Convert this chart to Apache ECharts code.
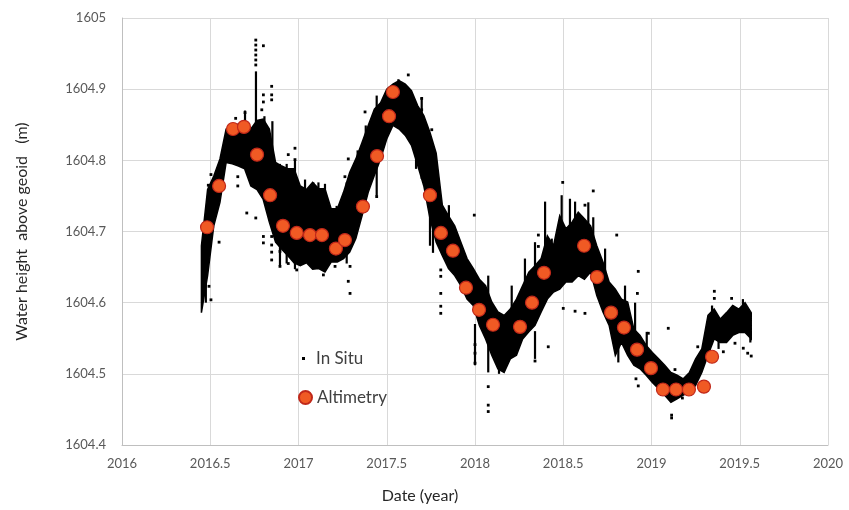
<!DOCTYPE html>
<html>
<head>
<meta charset="utf-8">
<script src="https://cdn.jsdelivr.net/npm/echarts@6/dist/echarts.min.js"></script>
<style>html,body{margin:0;padding:0;background:#fff}#c{width:849px;height:510px}</style>
</head>
<body>
<div id="c"></div>
<script>
// ---- In situ band: sample dates with lower / upper envelope of the dense point cloud ----
const inSituDates = [2016.45,2016.485,2016.52,2016.555,2016.59,2016.625,2016.66,2016.695,2016.73,2016.765,
2016.8,2016.835,2016.87,2016.905,2016.94,2016.975,2017.01,2017.045,2017.08,2017.115,
2017.15,2017.185,2017.22,2017.255,2017.29,2017.325,2017.36,2017.395,2017.43,2017.465,
2017.5,2017.535,2017.57,2017.605,2017.64,2017.675,2017.71,2017.745,2017.78,2017.815,
2017.85,2017.885,2017.92,2017.955,2017.99,2018.025,2018.06,2018.095,2018.13,2018.165,
2018.2,2018.235,2018.27,2018.305,2018.34,2018.375,2018.41,2018.445,2018.48,2018.515,
2018.55,2018.585,2018.62,2018.655,2018.69,2018.725,2018.76,2018.795,2018.83,2018.865,
2018.9,2018.935,2018.97,2019.005,2019.04,2019.075,2019.11,2019.145,2019.18,2019.215,
2019.25,2019.285,2019.32,2019.355,2019.39,2019.425,2019.46,2019.495,2019.53,2019.565];
const inSituLow = [1604.586,1604.638,1604.708,1604.741,1604.797,1604.795,1604.792,1604.788,1604.764,1604.759,
1604.745,1604.713,1604.685,1604.675,1604.666,1604.656,1604.652,1604.656,1604.647,1604.648,
1604.643,1604.657,1604.657,1604.662,1604.671,1604.690,1604.722,1604.755,1604.779,1604.802,
1604.830,1604.849,1604.844,1604.835,1604.821,1604.793,1604.764,1604.718,1604.685,1604.666,
1604.648,1604.638,1604.624,1604.605,1604.596,1604.568,1604.549,1604.526,1604.507,1604.502,
1604.521,1604.526,1604.549,1604.559,1604.568,1604.587,1604.605,1604.615,1604.619,1604.629,
1604.629,1604.638,1604.633,1604.643,1604.610,1604.587,1604.568,1604.526,1604.544,1604.526,
1604.512,1604.507,1604.498,1604.488,1604.479,1604.470,1604.460,1604.465,1604.470,1604.474,
1604.484,1604.502,1604.526,1604.549,1604.544,1604.544,1604.554,1604.558,1604.558,1604.549];
const inSituHigh = [1604.680,1604.759,1604.778,1604.802,1604.844,1604.848,1604.851,1604.846,1604.844,1604.856,
1604.858,1604.844,1604.797,1604.792,1604.788,1604.788,1604.764,1604.759,1604.769,1604.760,
1604.760,1604.732,1604.732,1604.755,1604.783,1604.802,1604.825,1604.849,1604.872,1604.881,
1604.900,1604.907,1604.912,1604.907,1604.898,1604.877,1604.863,1604.839,1604.810,1604.737,
1604.722,1604.708,1604.685,1604.662,1604.648,1604.633,1604.624,1604.601,1604.587,1604.582,
1604.591,1604.605,1604.624,1604.643,1604.652,1604.662,1604.694,1604.680,1604.722,1604.704,
1604.713,1604.727,1604.718,1604.708,1604.680,1604.657,1604.629,1604.619,1604.605,1604.601,
1604.563,1604.554,1604.540,1604.530,1604.521,1604.512,1604.502,1604.498,1604.493,1604.502,
1604.521,1604.535,1604.582,1604.591,1604.577,1604.586,1604.596,1604.591,1604.600,1604.586];

// thin vertical in-situ spikes: [date, low, high]
const inSituSpikes = [
[2016.759,1604.84,1604.925],[2016.852,1604.79,1604.855],[2017.762,1604.67,1604.74],
[2018.397,1604.66,1604.742],[2018.567,1604.70,1604.742],[2016.475,1604.60,1604.70],
[2016.697,1604.82,1604.87],[2016.807,1604.80,1604.862],[2016.895,1604.75,1604.795],
[2016.933,1604.74,1604.795],[2016.980,1604.74,1604.80],[2017.037,1604.72,1604.773],
[2017.084,1604.72,1604.769],[2017.113,1604.72,1604.769],[2017.150,1604.72,1604.767],
[2017.216,1604.70,1604.736],[2017.273,1604.72,1604.769],[2017.301,1604.74,1604.783],
[2017.335,1604.77,1604.814],[2017.381,1604.80,1604.849],[2017.443,1604.84,1604.891],
[2017.566,1604.88,1604.914],[2017.698,1604.83,1604.888],[2017.852,1604.69,1604.737],
[2018.075,1604.58,1604.638],[2018.208,1604.58,1604.624],[2018.283,1604.62,1604.662],
[2018.340,1604.64,1604.685],[2018.435,1604.66,1604.69],[2018.491,1604.70,1604.751],
[2018.538,1604.70,1604.746],[2018.642,1604.70,1604.741],[2018.670,1604.68,1604.72],
[2018.737,1604.63,1604.676],[2018.850,1604.58,1604.624],[2018.907,1604.56,1604.60],
[2018.973,1604.52,1604.559],[2019.343,1604.56,1604.596],[2019.462,1604.57,1604.596],
[2019.518,1604.58,1604.605],
[2016.895,1604.652,1604.70],[2016.933,1604.655,1604.70],[2016.980,1604.647,1604.69],
[2017.150,1604.645,1604.68],[2017.273,1604.655,1604.69],[2017.443,1604.75,1604.79],
[2017.666,1604.788,1604.83],[2017.698,1604.774,1604.82],[2017.745,1604.68,1604.73],
[2018.000,1604.512,1604.57],[2018.075,1604.502,1604.55],[2018.136,1604.50,1604.53],
[2018.340,1604.521,1604.56],[2018.812,1604.516,1604.56],[2019.380,1604.535,1604.56],
[2019.560,1604.544,1604.56]];

// isolated in-situ points
const inSituOutX = [2016.758,2016.758,2016.758,2016.758,2016.758,2016.758,2016.801,2016.848,2016.848,2016.848,
2016.801,2016.801,2016.697,2016.792,2016.644,2016.980,2016.942,2016.980,2016.504,2016.489,
2016.656,2016.656,2016.707,2016.758,2016.550,2016.493,2016.504,2016.801,2016.801,2016.848,
2016.848,2016.848,2016.848,2016.895,2016.895,2016.942,2016.990,2017.622,2017.377,2017.282,
2017.263,2017.698,2017.698,2017.698,2017.755,2017.292,2017.282,2017.292,2017.443,2017.207,
2017.141,2017.093,2017.996,2018.075,2018.075,2018.075,2018.000,2018.000,2018.000,2017.806,
2017.806,2017.806,2017.806,2017.806,2018.497,2018.623,2018.500,2018.567,2018.623,2018.340,
2018.415,2018.359,2018.359,2018.340,2018.670,2018.803,2018.925,2018.920,2018.912,2018.925,
2019.095,2019.114,2019.114,2019.356,2019.356,2019.454,2019.473,2019.407,2019.520,2019.545,
2019.565,2019.262,2019.175,2019.133,2018.982];
const inSituOutY = [1604.969,1604.962,1604.955,1604.948,1604.941,1604.934,1604.961,1604.904,1604.892,1604.885,
1604.892,1604.882,1604.867,1604.871,1604.859,1604.817,1604.808,1604.801,1604.780,1604.765,
1604.777,1604.764,1604.726,1604.719,1604.685,1604.623,1604.604,1604.693,1604.684,1604.693,
1604.681,1604.671,1604.660,1604.672,1604.651,1604.655,1604.646,1604.920,1604.868,1604.802,
1604.777,1604.887,1604.871,1604.857,1604.843,1604.651,1604.630,1604.613,1604.749,1604.651,
1604.639,1604.651,1604.723,1604.482,1604.456,1604.447,1604.541,1604.529,1604.515,1604.613,
1604.595,1604.585,1604.646,1604.637,1604.769,1604.737,1604.592,1604.588,1604.585,1604.518,
1604.538,1604.695,1604.679,1604.632,1604.757,1604.695,1604.644,1604.613,1604.493,1604.483,
1604.564,1604.442,1604.438,1604.616,1604.606,1604.606,1604.543,1604.531,1604.536,1604.529,
1604.525,1604.538,1604.466,1604.506,1604.557];

// ---- Altimetry ----
const altiDates = [2016.482,2016.550,2016.629,2016.691,2016.765,2016.839,2016.912,2016.990,2017.065,2017.133,
2017.212,2017.263,2017.365,2017.445,2017.513,2017.535,2017.745,2017.807,2017.875,2017.949,
2018.023,2018.102,2018.255,2018.323,2018.391,2018.618,2018.691,2018.771,2018.844,2018.918,
2018.997,2019.065,2019.139,2019.212,2019.297,2019.343];
const altiValues = [1604.706,1604.764,1604.844,1604.847,1604.808,1604.751,1604.708,1604.698,1604.695,1604.695,
1604.676,1604.688,1604.735,1604.806,1604.862,1604.896,1604.751,1604.698,1604.673,1604.621,
1604.590,1604.569,1604.566,1604.600,1604.642,1604.680,1604.636,1604.586,1604.565,1604.534,
1604.508,1604.478,1604.478,1604.478,1604.482,1604.524];

// ---- axes ----
const xMin = 2016, xMax = 2020, xStep = 0.5;
const yMin = 1604.4, yMax = 1605, yStep = 0.1;

const FONT = 'Lato';
const bandData = inSituDates.map((d, i) => [d, inSituLow[i], inSituHigh[i]]);
const outData = inSituOutX.map((d, i) => [d, inSituOutY[i]]);
const altiData = altiDates.map((d, i) => [d, altiValues[i]]);

const chart = echarts.init(document.getElementById('c'), null, {renderer: 'canvas'});
chart.setOption({
  animation: false,
  backgroundColor: '#ffffff',
  grid: {left: 122, right: 21, top: 18, bottom: 65, containLabel: false},
  xAxis: {
    type: 'value', min: xMin, max: xMax, interval: xStep,
    name: 'Date (year)', nameLocation: 'middle', nameGap: 43,
    nameTextStyle: {fontFamily: FONT, fontSize: 16, color: '#262626', padding: [0, 110, 0, 0]},
    axisLine: {show: true, lineStyle: {color: '#bfbfbf', width: 1}},
    axisTick: {show: false},
    axisLabel: {fontFamily: FONT, fontSize: 13, color: '#595959', margin: 12,
      formatter: v => String(Math.round(v * 10) / 10)},
    splitLine: {show: true, lineStyle: {color: '#d9d9d9', width: 1}}
  },
  yAxis: {
    type: 'value', min: yMin, max: yMax, interval: yStep,
    name: 'Water height  above geoid   (m)', nameLocation: 'middle', nameGap: 92,
    nameTextStyle: {fontFamily: FONT, fontSize: 16, color: '#262626'},
    axisLine: {show: true, lineStyle: {color: '#bfbfbf', width: 1}},
    axisTick: {show: false},
    axisLabel: {fontFamily: FONT, fontSize: 13, color: '#595959', margin: 16,
      formatter: v => String(Math.round(v * 10) / 10)},
    splitLine: {show: true, lineStyle: {color: '#d9d9d9', width: 1}}
  },
  legend: [
    {data: [{name: 'In Situ', icon: 'rect'}], left: 302, top: 350, padding: 0, itemWidth: 3, itemHeight: 3,
     textStyle: {fontFamily: FONT, fontSize: 17, color: '#404040', padding: [0, 0, 0, 6]}},
    {data: [{name: 'Altimetry', icon: 'circle'}], left: 298, top: 389, padding: 0, itemWidth: 13, itemHeight: 13,
     textStyle: {fontFamily: FONT, fontSize: 17, color: '#404040'}}
  ],
  series: [
    {
      name: 'In Situ', type: 'custom', data: bandData, itemStyle: {color: '#000'},
      encode: {x: 0, y: [1, 2]},
      renderItem: function (params, api) {
        if (params.dataIndex !== 0) return null;
        const top = bandData.map(r => api.coord([r[0], r[2]]));
        const bot = bandData.map(r => api.coord([r[0], r[1]])).reverse();
        return {type: 'polygon', shape: {points: top.concat(bot)},
                style: {fill: '#000', stroke: '#000', lineWidth: 1.5}};
      },
      z: 2
    },
    {
      name: 'In Situ', type: 'custom', data: inSituSpikes, itemStyle: {color: '#000'},
      encode: {x: 0, y: [1, 2]},
      renderItem: function (params, api) {
        const x = api.value(0);
        const pTop = api.coord([x, api.value(2)]);
        const pBot = api.coord([x, api.value(1)]);
        return {type: 'line', shape: {x1: pTop[0], y1: pTop[1], x2: pBot[0], y2: pBot[1]},
                style: {stroke: '#000', lineWidth: 2.2}};
      },
      z: 2
    },
    {
      name: 'In Situ', type: 'scatter', data: outData, symbol: 'rect', symbolSize: 2.8,
      itemStyle: {color: '#000', opacity: 1}, z: 2
    },
    {
      name: 'Altimetry', type: 'scatter', data: altiData, symbol: 'circle', symbolSize: 13,
      itemStyle: {color: '#F05A24', borderColor: '#C0281A', borderWidth: 1.2, opacity: 1}, z: 5
    }
  ]
});
</script>
</body>
</html>
